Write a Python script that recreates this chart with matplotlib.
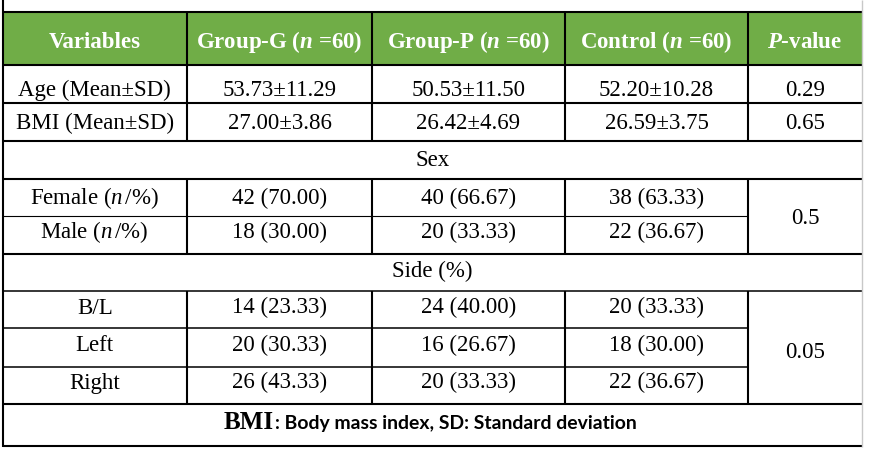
import matplotlib
matplotlib.use("Agg")
import matplotlib.pyplot as plt
from matplotlib.patches import Rectangle

plt.rcParams["mathtext.fontset"] = "custom"
plt.rcParams["mathtext.rm"] = "Liberation Serif"
plt.rcParams["mathtext.it"] = "Liberation Serif:italic"
plt.rcParams["mathtext.bf"] = "Liberation Serif:bold"
plt.rcParams["mathtext.bfit"] = "Liberation Serif:italic:bold"

# ======= Table content =======
headers = ["Variables", r"Group-G ($\mathbfit{n}$ =60)", r"Group-P ($\mathbfit{n}$ =60)",
           r"Control ($\mathbfit{n}$ =60)", r"$\mathbfit{P}$-value"]
row_labels = ["Age (Mean±SD)", "BMI (Mean±SD)", r"Female ($\mathit{n}\,$/%)",
              r"Male ($\mathit{n}\,$/%)", "B/L", "Left", "Right"]
group_g = ["53.73±11.29", "27.00±3.86", "42 (70.00)", "18 (30.00)",
           "14 (23.33)", "20 (30.33)", "26 (43.33)"]
group_p = ["50.53±11.50", "26.42±4.69", "40 (66.67)", "20 (33.33)",
           "24 (40.00)", "16 (26.67)", "20 (33.33)"]
control = ["52.20±10.28", "26.59±3.75", "38 (63.33)", "22 (36.67)",
           "20 (33.33)", "18 (30.00)", "22 (36.67)"]
p_values = ["0.29", "0.65", "0.5", "0.05"]
sections = ["Sex", "Side (%)"]
footer_abbr = "BMI"
footer_text = ": Body mass index, SD: Standard deviation"

# ======= Layout (pixels) =======
W, H = 871, 450
GREEN = "#70AD47"
col_x = [2.5, 187, 372, 565, 748, 862]
col_c = [(a + b) / 2 for a, b in zip(col_x[:-1], col_x[1:])]
top = 11.5
head_bot = 65
# baselines for the data rows
baselines = [96.0, 129.0, 204.0, 238.5, 313.5, 351.0, 388.5]
section_base = [166.0, 277.5]
p_base = [96.0, 129.0, 224.5, 358.0]
footer_base = 429.3

FS = 16.5
THICK = 1.5
THIN = 0.8

fig = plt.figure(figsize=(W / 100, H / 100), dpi=100)
ax = fig.add_axes([0, 0, 1, 1])
ax.set_xlim(0, W)
ax.set_ylim(H, 0)
ax.axis("off")

# header fill
ax.add_patch(Rectangle((col_x[0], top), col_x[-1] - col_x[0], head_bot - top,
                       facecolor=GREEN, edgecolor="none", zorder=0))

# horizontal rules
ax.hlines(top, col_x[0], col_x[-1] + 1, color="black", lw=THICK)
for y in [65, 103, 141, 179, 254, 404, 446]:
    ax.hlines(y, col_x[0], col_x[-1], color="black", lw=THICK)
ax.hlines(291, col_x[0], col_x[-1], color="black", lw=1.1)
ax.hlines(216, col_x[0], col_x[4], color="black", lw=THIN)
for y in [328, 367]:
    ax.hlines(y, col_x[0], col_x[4], color="black", lw=1.1)

# vertical rules
ax.vlines(col_x[0], 0, 447, color="black", lw=THICK)
ax.vlines(col_x[-1], 0, 447, color="#c8c8c8", lw=1.0)
for x in col_x[1:-1]:
    for y0, y1 in [(top, 141), (179, 254), (291, 404)]:
        ax.vlines(x, y0, y1, color="black", lw=THICK)

# header text
for c, h in zip(col_c, headers):
    ax.text(c, 48, h, ha="center", va="baseline", color="white",
            fontsize=FS, fontweight="bold", family="Liberation Serif")

# body
body_kw = dict(ha="center", va="baseline", color="black", fontsize=FS,
               family="Liberation Serif")
for i, b in enumerate(baselines):
    ax.text(col_c[0], b, row_labels[i], **body_kw)
    ax.text(col_c[1], b, group_g[i], **body_kw)
    ax.text(col_c[2], b, group_p[i], **body_kw)
    ax.text(col_c[3], b, control[i], **body_kw)

for s, b in zip(sections, section_base):
    ax.text((col_x[0] + col_x[-1]) / 2, b, s, **body_kw)

for p, b in zip(p_values, p_base):
    ax.text(col_c[4], b, p, **body_kw)

# footer: serif abbreviation + narrow sans note, fitted to the reference width
ax.text(274, footer_base, footer_abbr, ha="right", va="baseline", fontsize=18,
        fontweight="bold", family="Liberation Serif")
note = ax.text(275, footer_base, footer_text, ha="left", va="baseline",
               fontsize=13, fontweight="bold",
               family=["Liberation Sans Narrow", "Lato"])
fig.canvas.draw()
w = note.get_window_extent().width
note.set_fontsize(13 * 362 / w)

fig.savefig("out.png", dpi=100)
